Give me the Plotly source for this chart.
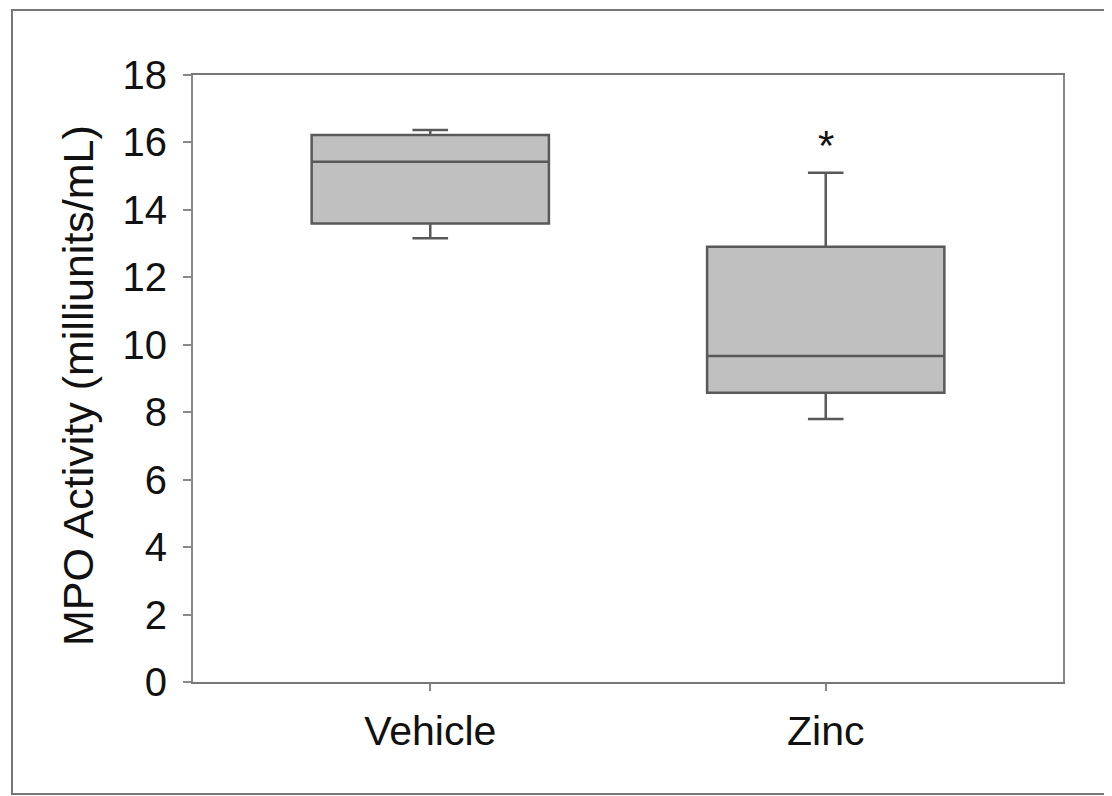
import plotly.graph_objects as go

groups = ["Vehicle", "Zinc"]
q1 = [13.60, 8.58]
median = [15.43, 9.67]
q3 = [16.22, 12.91]
lowerfence = [13.16, 7.80]
upperfence = [16.37, 15.10]
sig_labels = ["", "*"]
y_ticks = list(range(0, 19, 2))

OFF = 8  # default page body margin
W, H = 1112 - OFF, 796 - OFF
ML, MR, MT, MB = 193 - OFF, 49, 75 - OFF, 114
PW, PH = W - ML - MR, H - MT - MB

FONT = "Liberation Sans, Arial"

fig = go.Figure()
fig.add_trace(go.Box(
    x=groups, q1=q1, median=median, q3=q3,
    lowerfence=lowerfence, upperfence=upperfence,
    fillcolor="#c0c0c0",
    line=dict(color="#595959", width=2.5),
    width=0.6, whiskerwidth=0.15,
    boxpoints=False, showlegend=False, hoverinfo="skip",
))

for g, s, uf in zip(groups, sig_labels, upperfence):
    if s:
        fig.add_annotation(x=g, y=uf + 0.8, text=s, showarrow=False,
                           font=dict(size=42, color="#111", family=FONT),
                           yanchor="middle")

def px_x(p):
    return (p - OFF - ML) / PW

def px_y(p):
    return 1 - (p - OFF - MT) / PH

# outer frame
fig.add_shape(type="rect", xref="paper", yref="paper",
              x0=px_x(12), x1=px_x(1109), y0=px_y(794), y1=px_y(10),
              line=dict(color="#777", width=2), layer="below")

# y title
fig.add_annotation(xref="paper", yref="paper", x=px_x(78), y=px_y(386),
                   text="MPO Activity (milliunits/mL)", textangle=-90,
                   showarrow=False, xanchor="center", yanchor="middle",
                   font=dict(size=43, color="#111", family=FONT))

fig.update_layout(
    width=W, height=H,
    margin=dict(l=ML, r=MR, t=MT, b=MB),
    paper_bgcolor="white", plot_bgcolor="white",
    font=dict(family=FONT, color="#111", size=40),
    xaxis=dict(type="category", range=[-0.6, 1.6], showgrid=False,
               showline=True, linecolor="#777", linewidth=2, mirror=True,
               ticks="outside", ticklen=7, tickcolor="#888", tickwidth=2,
               ticklabelstandoff=5,
               tickfont=dict(size=41), zeroline=False),
    yaxis=dict(range=[0, 18], tickvals=y_ticks, showgrid=False,
               showline=True, linecolor="#888", linewidth=2, mirror=True,
               ticks="outside", ticklen=8, tickcolor="#888", tickwidth=2,
               ticklabelstandoff=8,
               tickfont=dict(size=40), zeroline=False),
)

fig.write_html("out.html")
